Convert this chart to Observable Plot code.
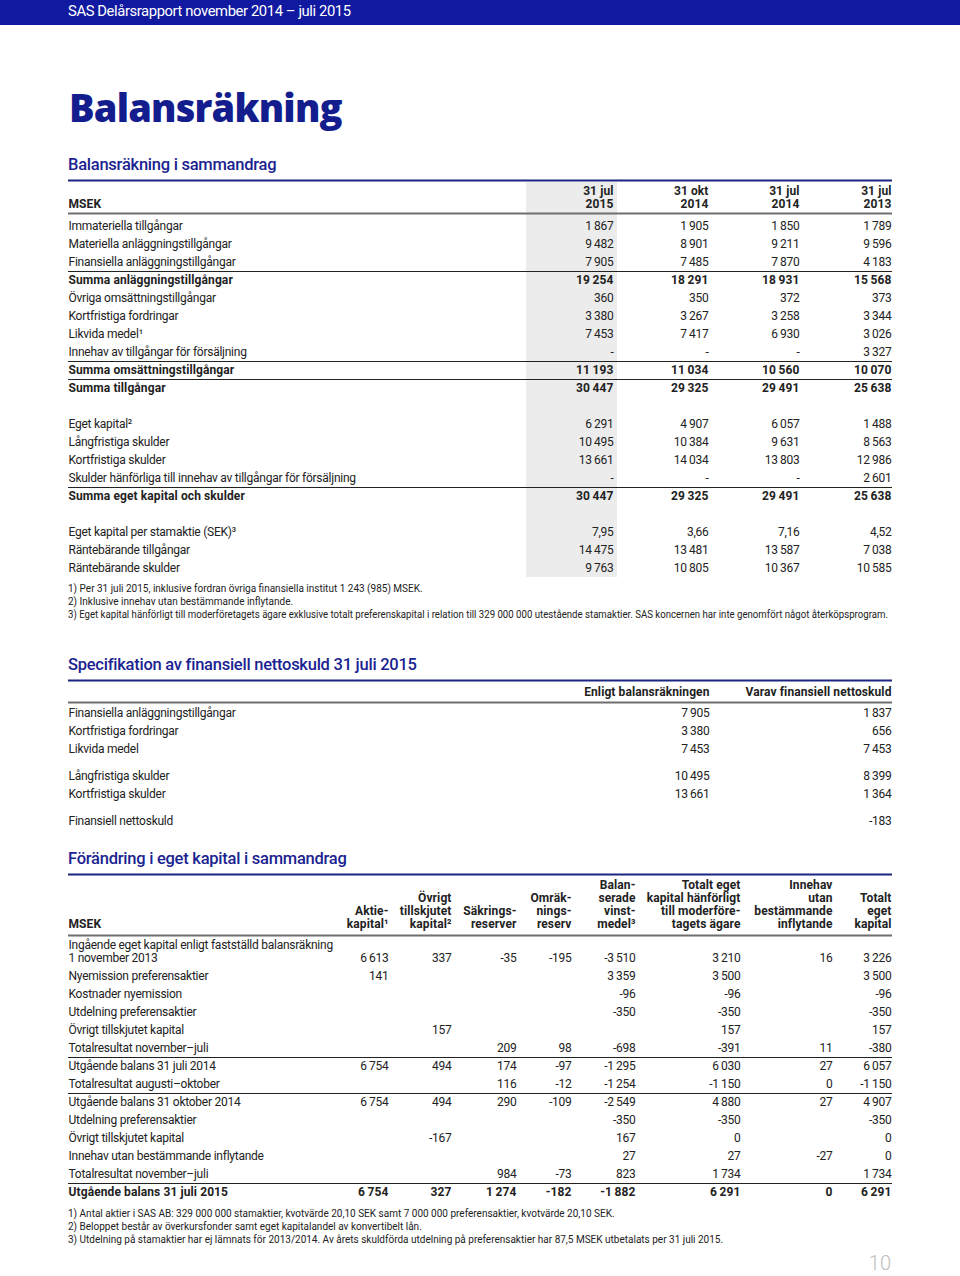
<!DOCTYPE html>
<html lang="sv">
<head>
<meta charset="utf-8">
<script src="https://cdn.jsdelivr.net/npm/d3@7"></script>
<script src="https://cdn.jsdelivr.net/npm/@observablehq/plot@0.6"></script>
<style>
  html,body{margin:0;padding:0;background:#fff;overflow:hidden;}
  #page{position:relative;width:960px;height:1276px;overflow:hidden;font-family:Roboto,"Noto Sans",sans-serif;color:#222;}
  .abs{position:absolute;white-space:nowrap;}
  #bar{left:0;top:0;width:960px;height:25px;background:#1119a0;}
  #bartext{left:68px;top:1px;font-size:14.8px;line-height:20px;color:#fff;letter-spacing:-0.4px;}
  #title{left:69px;top:82px;font-family:"Open Sans",sans-serif;font-weight:800;font-size:38px;line-height:50px;color:#141d8e;letter-spacing:-0.8px;}
  .head{left:68px;font-size:16.5px;line-height:20px;font-weight:500;color:#1a2391;letter-spacing:-0.25px;}
  .note{left:68px;font-size:10px;line-height:13px;letter-spacing:0px;color:#222;transform-origin:0 50%;}
  .tbl{left:0;}
  #pageno{right:69px;top:1252px;font-size:20px;line-height:23px;font-weight:300;color:#bdbdbd;}
  svg g[font-weight="bold"]{letter-spacing:0.1px;}
</style>
</head>
<body>
<div id="page"></div>
<script>
// ================= DATA =================
const pageHeader = "SAS Delårsrapport november 2014 – juli 2015";
const pageTitle = "Balansräkning";
const pageNumber = "10";

// --- Balansräkning i sammandrag ---
const bsTitle = "Balansräkning i sammandrag";
const bsUnit = "MSEK";
const bsColumns = ["31 jul\n2015", "31 okt\n2014", "31 jul\n2014", "31 jul\n2013"];
const bsLabels = [
  "Immateriella tillgångar",
  "Materiella anläggningstillgångar",
  "Finansiella anläggningstillgångar",
  "Summa anläggningstillgångar",
  "Övriga omsättningstillgångar",
  "Kortfristiga fordringar",
  "Likvida medel¹",
  "Innehav av tillgångar för försäljning",
  "Summa omsättningstillgångar",
  "Summa tillgångar",
  "Eget kapital²",
  "Långfristiga skulder",
  "Kortfristiga skulder",
  "Skulder hänförliga till innehav av tillgångar för försäljning",
  "Summa eget kapital och skulder",
  "Eget kapital per stamaktie (SEK)³",
  "Räntebärande tillgångar",
  "Räntebärande skulder"
];
const bsSection = [0,0,0,0,0,0,0,0,0,0, 1,1,1,1,1, 2,2,2];
const bsJul2015 = [1867, 9482, 7905, 19254, 360, 3380, 7453, null, 11193, 30447, 6291, 10495, 13661, null, 30447, 7.95, 14475, 9763];
const bsOkt2014 = [1905, 8901, 7485, 18291, 350, 3267, 7417, null, 11034, 29325, 4907, 10384, 14034, null, 29325, 3.66, 13481, 10805];
const bsJul2014 = [1850, 9211, 7870, 18931, 372, 3258, 6930, null, 10560, 29491, 6057, 9631, 13803, null, 29491, 7.16, 13587, 10367];
const bsJul2013 = [1789, 9596, 4183, 15568, 373, 3344, 3026, 3327, 10070, 25638, 1488, 8563, 12986, 2601, 25638, 4.52, 7038, 10585];
const bsNotes = [
  "1) Per 31 juli 2015, inklusive fordran övriga finansiella institut 1 243 (985) MSEK.",
  "2) Inklusive innehav utan bestämmande inflytande.",
  "3) Eget kapital hänförligt till moderföretagets ägare exklusive totalt preferenskapital i relation till 329 000 000 utestående stamaktier. SAS koncernen har inte genomfört något återköpsprogram."
];

// --- Specifikation av finansiell nettoskuld ---
const nsTitle = "Specifikation av finansiell nettoskuld 31 juli 2015";
const nsColumns = ["Enligt balansräkningen", "Varav finansiell nettoskuld"];
const nsLabels = [
  "Finansiella anläggningstillgångar",
  "Kortfristiga fordringar",
  "Likvida medel",
  "Långfristiga skulder",
  "Kortfristiga skulder",
  "Finansiell nettoskuld"
];
const nsSection = [0,0,0,1,1,2];
const nsBalans = [7905, 3380, 7453, 10495, 13661, null];
const nsNetto = [1837, 656, 7453, 8399, 1364, -183];

// --- Förändring i eget kapital i sammandrag ---
const eqTitle = "Förändring i eget kapital i sammandrag";
const eqUnit = "MSEK";
const eqColumns = [
  "Aktie-\nkapital¹",
  "Övrigt\ntillskjutet\nkapital²",
  "Säkrings-\nreserver",
  "Omräk-\nnings-\nreserv",
  "Balan-\nserade\nvinst-\nmedel³",
  "Totalt eget\nkapital hänförligt\ntill moderföre-\ntagets ägare",
  "Innehav\nutan\nbestämmande\ninflytande",
  "Totalt\neget\nkapital"
];
const eqLabels = [
  "Ingående eget kapital enligt fastställd balansräkning\n1 november 2013",
  "Nyemission preferensaktier",
  "Kostnader nyemission",
  "Utdelning preferensaktier",
  "Övrigt tillskjutet kapital",
  "Totalresultat november–juli",
  "Utgående balans 31 juli 2014",
  "Totalresultat augusti–oktober",
  "Utgående balans 31 oktober 2014",
  "Utdelning preferensaktier",
  "Övrigt tillskjutet kapital",
  "Innehav utan bestämmande inflytande",
  "Totalresultat november–juli",
  "Utgående balans 31 juli 2015"
];
const eqAktiekapital = [6613, 141, null, null, null, null, 6754, null, 6754, null, null, null, null, 6754];
const eqOvrigt       = [337, null, null, null, 157, null, 494, null, 494, null, -167, null, null, 327];
const eqSakring      = [-35, null, null, null, null, 209, 174, 116, 290, null, null, null, 984, 1274];
const eqOmrakning    = [-195, null, null, null, null, 98, -97, -12, -109, null, null, null, -73, -182];
const eqBalanserade  = [-3510, 3359, -96, -350, null, -698, -1295, -1254, -2549, -350, 167, 27, 823, -1882];
const eqModer        = [3210, 3500, -96, -350, 157, -391, 6030, -1150, 4880, -350, 0, 27, 1734, 6291];
const eqInnehav      = [16, null, null, null, null, 11, 27, 0, 27, null, null, -27, null, 0];
const eqTotalt       = [3226, 3500, -96, -350, 157, -380, 6057, -1150, 4907, -350, 0, 0, 1734, 6291];
const eqNotes = [
  "1) Antal aktier i SAS AB: 329 000 000 stamaktier, kvotvärde 20,10 SEK samt 7 000 000 preferensaktier, kvotvärde 20,10 SEK.",
  "2) Beloppet består av överkursfonder samt eget kapitalandel av konvertibelt lån.",
  "3) Utdelning på stamaktier har ej lämnats för 2013/2014. Av årets skuldförda utdelning på preferensaktier har 87,5 MSEK utbetalats per 31 juli 2015."
];

// ================= LAYOUT (page pixels) =================
const X_LEFT = 68, X_RIGHT = 892, PITCH = 18, HEAD_LINE = 13, NOTE_MAX = 820;
const NAVY = "#1b2580", HEAD_GREY = "#6f6f6f", INK = "#222";
const L_BS = {top: 176, height: 406, blueRule: 180, headRule: 213, headBottom: 204, firstRow: 226, gap: 1,
  colX: [613, 708, 799, 891], shade: {left: 87, right: 4, top: 182, bottom: 577}, titleTop: 155, notesTop: 582};
const L_NS = {top: 676, height: 152, blueRule: 680, headRule: 702, headBottom: 692, firstRow: 713, gap: 0.5,
  colX: [709, 891], titleTop: 655};
const L_EQ = {top: 870, height: 330, blueRule: 874, headRule: 935, headBottom: 924, firstRow: 958, gap: 0,
  colX: [388, 451, 516, 571, 635, 740, 832, 891], titleTop: 849, notesTop: 1207};

// ================= HELPERS =================
const loc = d3.formatLocale({decimal: ",", thousands: "\u2009", grouping: [3], currency: ["", ""], minus: "-"});
const fInt = loc.format(",d"), fDec = loc.format(",.2f");
const fmt = (v, blank) => v == null ? blank : Number.isInteger(v) ? fInt(v) : fDec(v);

function rowsOf(labels, sections, series, L, isBold, hasRule) {
  return labels.map((label, i) => ({
    label, i,
    y: L.firstRow + PITCH * (i + L.gap * sections[i]),
    bold: isBold(label, i),
    rule: hasRule(label, i),
    values: series.map(s => s[i])
  }));
}
function cellsOf(rows, L, blank) {
  return rows.flatMap(r => r.values.map((v, c) => ({x: L.colX[c], y: r.y, t: fmt(v, blank), bold: r.bold})));
}
function labelLines(rows) {
  return rows.flatMap(r => {
    const lines = r.label.split("\n");
    return lines.map((t, j) => ({t, y: r.y - (lines.length - 1 - j) * HEAD_LINE, bold: r.bold}));
  });
}
function headerLines(columns, L) {
  return columns.flatMap((col, c) => {
    const lines = col.split("\n");
    return lines.map((t, j) => ({t, x: L.colX[c], y: L.headBottom - (lines.length - 1 - j) * HEAD_LINE}));
  });
}
function tablePlot(L, marks) {
  return Plot.plot({
    width: 960, height: L.height,
    marginLeft: X_LEFT, marginRight: 960 - X_RIGHT, marginTop: 0, marginBottom: 0,
    x: {domain: [X_LEFT, X_RIGHT], axis: null},
    y: {domain: [L.top, L.top + L.height], range: [0, L.height], axis: null},
    style: {fontFamily: "Roboto, 'Noto Sans', sans-serif", fontSize: "12px", letterSpacing: "-0.25px", color: INK, background: "transparent", overflow: "visible"},
    marks
  });
}
function commonMarks(L, rows, cells, columns, unit) {
  const lab = labelLines(rows);
  return [
    Plot.ruleY([L.blueRule], {stroke: NAVY, strokeWidth: 2}),
    Plot.ruleY([L.headRule], {stroke: HEAD_GREY, strokeWidth: 2}),
    Plot.ruleY(rows.filter(r => r.rule), {y: r => r.y - PITCH / 2, stroke: INK, strokeWidth: 1}),
    unit ? Plot.text([unit], {x: X_LEFT, y: L.headBottom, text: d => d, textAnchor: "start", fontWeight: "bold", fontSize: 12, fill: INK}) : null,
    Plot.text(headerLines(columns, L), {x: "x", y: "y", text: "t", textAnchor: "end", fontWeight: "bold", fontSize: 12, fill: INK}),
    Plot.text(lab.filter(d => !d.bold), {x: X_LEFT, y: "y", text: "t", textAnchor: "start", fontSize: 12, fill: INK}),
    Plot.text(lab.filter(d => d.bold), {x: X_LEFT, y: "y", text: "t", textAnchor: "start", fontWeight: "bold", fontSize: 12, fill: INK}),
    Plot.text(cells.filter(d => !d.bold), {x: "x", y: "y", text: "t", textAnchor: "end", fontSize: 12, fill: INK}),
    Plot.text(cells.filter(d => d.bold), {x: "x", y: "y", text: "t", textAnchor: "end", fontWeight: "bold", fontSize: 12, fill: INK})
  ].filter(Boolean);
}

// ================= BUILD =================
const page = document.getElementById("page");
function addDiv(cls, id, text, top) {
  const d = document.createElement("div");
  d.className = "abs " + cls;
  if (id) d.id = id;
  if (text != null) d.textContent = text;
  if (top != null) d.style.top = top + "px";
  page.appendChild(d);
  return d;
}
function addNote(text, top) {
  const d = addDiv("note", null, text, top);
  const w = d.getBoundingClientRect().width;
  if (w > NOTE_MAX) d.style.transform = `scaleX(${NOTE_MAX / w})`;
  return d;
}
addDiv("", "bar");
addDiv("", "bartext", pageHeader);
addDiv("", "title", pageTitle);

// Table 1
addDiv("head", null, bsTitle, L_BS.titleTop);
const bsRows = rowsOf(bsLabels, bsSection, [bsJul2015, bsOkt2014, bsJul2014, bsJul2013], L_BS,
  l => l.startsWith("Summa"), l => l.startsWith("Summa"));
const bsCells = cellsOf(bsRows, L_BS, "-");
const bsPlot = tablePlot(L_BS, [
  Plot.rect([bsColumns[0]], {x1: () => L_BS.colX[0] - L_BS.shade.left, x2: () => L_BS.colX[0] + L_BS.shade.right,
    y1: () => L_BS.shade.top, y2: () => L_BS.shade.bottom, fill: "#ececec"}),
  ...commonMarks(L_BS, bsRows, bsCells, bsColumns, bsUnit)
]);
addDiv("tbl", null, null, L_BS.top).appendChild(bsPlot);
bsNotes.forEach((n, i) => addNote(n, L_BS.notesTop + i * HEAD_LINE));

// Table 2
addDiv("head", null, nsTitle, L_NS.titleTop);
const nsRows = rowsOf(nsLabels, nsSection, [nsBalans, nsNetto], L_NS, () => false, () => false);
const nsCells = cellsOf(nsRows, L_NS, "");
addDiv("tbl", null, null, L_NS.top).appendChild(tablePlot(L_NS, commonMarks(L_NS, nsRows, nsCells, nsColumns, null)));

// Table 3
addDiv("head", null, eqTitle, L_EQ.titleTop);
const eqRows = rowsOf(eqLabels, eqLabels.map(() => 0),
  [eqAktiekapital, eqOvrigt, eqSakring, eqOmrakning, eqBalanserade, eqModer, eqInnehav, eqTotalt], L_EQ,
  (l, i) => i === eqLabels.length - 1, l => l.startsWith("Utgående"));
const eqCells = cellsOf(eqRows, L_EQ, "");
addDiv("tbl", null, null, L_EQ.top).appendChild(tablePlot(L_EQ, commonMarks(L_EQ, eqRows, eqCells, eqColumns, eqUnit)));
eqNotes.forEach((n, i) => addNote(n, L_EQ.notesTop + i * HEAD_LINE));

addDiv("", "pageno", pageNumber);
</script>
</body>
</html>
